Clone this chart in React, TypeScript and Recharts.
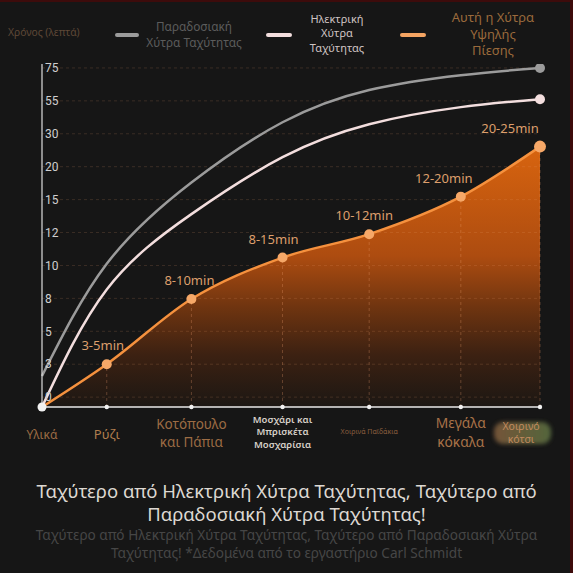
import React from 'react'
import {
  ComposedChart, Area, Line, XAxis, YAxis, ReferenceLine, LabelList,
} from 'recharts'

// categories along the bottom axis (\n = line break in the label)
const categories = [
  'Υλικά',
  'Ρύζι',
  'Κοτόπουλο\nκαι Πάπια',
  'Μοσχάρι και\nΜπρισκέτα\nΜοσχαρίσια',
  'Χοιρινά Παϊδάκια',
  'Μεγάλα\nκόκαλα',
  'Χοιρινό\nκότσι',
]
// position of each category on the (uneven) x scale
const xValues = [0, 1.3, 3.0, 4.83, 6.57, 8.41, 10]

// y values are steps on the uneven minutes scale (0 = "0", 10 = "75")
const yTickLabels = ['0', '3', '5', '8', '10', '12', '15', '20', '30', '55', '75']
const yTicks = [0, 1, 2, 3, 4, 5, 6, 7, 8, 9, 10]
const Y_MIN = -0.3
const Y_MAX = 10.12

const traditional = [0.64, 4.05, 6.52, 8.35, 9.33, 9.78, 10.0]
const electric = [-0.3, 3.27, 5.56, 7.29, 8.29, 8.81, 9.05]
const thisCooker = [-0.3, 1.0, 2.98, 4.24, 4.95, 6.09, 7.61]
const pointLabels = ['', '3-5min', '8-10min', '8-15min', '10-12min', '12-20min', '20-25min']

const rows = categories.map((name, i) => ({
  x: xValues[i],
  name,
  traditional: traditional[i],
  electric: electric[i],
  ours: thisCooker[i],
}))

const GRAY = '#9b9b9b'
const PINK = '#f3dede'
const ORANGE = '#f5913e'

// look of every bottom label, same order as categories
const tickStyles = [
  { size: 12, color: '#9c6c44', top: 27, lh: 17, weight: 400, dx: 0 },
  { size: 13, color: '#b07e4e', top: 27, lh: 17, weight: 400, dx: 0 },
  { size: 13.5, color: '#9c6c44', top: 17, lh: 17.5, weight: 400, dx: 0 },
  { size: 9.5, color: '#d6d0c8', top: 12, lh: 12.5, weight: 600, dx: 0 },
  { size: 7, color: '#8a5e3e', top: 24.5, lh: 10, weight: 400, dx: 0 },
  { size: 13.8, color: '#a87248', top: 15.5, lh: 18.8, weight: 400, dx: 0 },
  { size: 10.5, color: '#c08a5e', top: 18.5, lh: 13, weight: 400, dx: -19 },
]
const labelShift = [0, -4, -2, -9, -5, -17, -30]

function XTick(props: any) {
  const { x, y, index } = props
  const st = tickStyles[index]
  const lines = categories[index].split('\n')
  return (
    <g>
      {index === 6 && (
        <rect x={x - 46} y={y + 15} width={57} height={22} rx={9}
          fill="url(#pillGrad)" filter="url(#pillBlur)" opacity={0.85} />
      )}
      <circle cx={x} cy={y} r={index === 0 ? 4.5 : 2.2} fill="#f2f2f2" />
      {lines.map((t, k) => (
        <text key={k} x={x + st.dx} y={y + st.top + k * st.lh} textAnchor="middle"
          dominantBaseline="central" fontSize={st.size} fontWeight={st.weight} fill={st.color}>
          {t}
        </text>
      ))}
    </g>
  )
}

function endDot(color: string) {
  return (p: any) =>
    p.index === rows.length - 1
      ? <circle key={p.index} cx={p.cx} cy={p.cy} r={5} fill={color} />
      : <g key={p.index} />
}

function oursDot(p: any) {
  if (p.index === 0) return <g key={p.index} />
  return <circle key={p.index} cx={p.cx} cy={p.cy} r={p.index === 6 ? 6 : 5} fill="#f6a868" />
}

function PointLabel(p: any) {
  const text = pointLabels[p.index]
  if (!text) return null
  return (
    <text x={p.x + labelShift[p.index]} y={p.y - 19} textAnchor="middle" dominantBaseline="central"
      fontSize={13} fill="#dd9f6c">
      {text}
    </text>
  )
}

const legendText: React.CSSProperties = { position: 'absolute', textAlign: 'center', whiteSpace: 'nowrap' }

export default function App() {
  return (
    <div style={{
      position: 'fixed', top: 0, left: 0, width: 573, height: 573, background: '#161616',
      fontFamily: '"Noto Sans", sans-serif', overflow: 'hidden',
      borderTop: '2px solid #3d0b0b', borderRight: '3px solid #3d0b0b', boxSizing: 'border-box',
    }}>
      {/* legend */}
      <div style={{ ...legendText, left: 8, top: 23, fontSize: 10.3, color: '#5e4836' }}>Χρόνος (λεπτά)</div>
      <div style={{ position: 'absolute', left: 115, top: 31, width: 24, height: 4, borderRadius: 2, background: GRAY }} />
      <div style={{ ...legendText, left: 144, width: 100, top: 17, fontSize: 11.8, lineHeight: '15.5px', color: '#5c5c5c' }}>
        Παραδοσιακή<br />Χύτρα Ταχύτητας
      </div>
      <div style={{ position: 'absolute', left: 266, top: 31, width: 26, height: 4, borderRadius: 2, background: PINK }} />
      <div style={{ ...legendText, left: 297, width: 80, top: 10, fontSize: 11, lineHeight: '14.3px', color: '#d0c4c4' }}>
        Ηλεκτρική<br />Χύτρα<br />Ταχύτητας
      </div>
      <div style={{ position: 'absolute', left: 400, top: 31, width: 26, height: 4, borderRadius: 2, background: '#f4a462' }} />
      <div style={{ ...legendText, left: 443, width: 100, top: 7, fontSize: 13, lineHeight: '16.5px', color: '#9a6a3c' }}>
        Αυτή η Χύτρα<br />Υψηλής<br />Πίεσης
      </div>

      <div style={{ position: 'absolute', top: 0, left: 0 }}>
        <ComposedChart width={573} height={470} data={rows} margin={{ top: 62, right: 33, bottom: 5, left: 42 }}>
          <defs>
            <linearGradient id="oursGrad" x1="0" y1="0" x2="0" y2="1">
              <stop offset="0%" stopColor="#d8640f" />
              <stop offset="42%" stopColor="#ad4c10" />
              <stop offset="62%" stopColor="#6e3410" />
              <stop offset="80%" stopColor="#3c2112" />
              <stop offset="100%" stopColor="#1c1713" />
            </linearGradient>
            <linearGradient id="pillGrad" x1="0" y1="0" x2="1" y2="0">
              <stop offset="0%" stopColor="#85603e" />
              <stop offset="100%" stopColor="#5f7444" />
            </linearGradient>
            <filter id="pillBlur" x="-20%" y="-40%" width="140%" height="180%">
              <feGaussianBlur stdDeviation="2" />
            </filter>
          </defs>
          <XAxis
            dataKey="x" type="number" domain={[0, 10]} ticks={xValues} interval={0}
            axisLine={{ stroke: '#e8e8e8', strokeWidth: 1.5 }} tickLine={false}
            tickSize={0} tickMargin={0} height={60} tick={(p: any) => <XTick {...p} />}
          />
          <YAxis
            type="number" domain={[Y_MIN, Y_MAX]} ticks={yTicks} allowDataOverflow mirror
            tickFormatter={(v: number) => yTickLabels[v]} axisLine={{ stroke: '#e0e0e0', strokeWidth: 1.2 }}
            tickLine={false} tickSize={0} tickMargin={3}
            tick={{ fill: '#cfcfcf', fontSize: 12, fontFamily: 'Roboto, sans-serif' }}
          />
          <Area
            type="monotone" dataKey="ours" baseValue={Y_MIN} stroke="none"
            fill="url(#oursGrad)" fillOpacity={1} dot={false} activeDot={false} isAnimationActive={false}
          />
          {/* dashed grid, drawn over the filled area */}
          {yTicks.map((t) => (
            <ReferenceLine key={`h${t}`} y={t} stroke="#f0a070" strokeOpacity={0.17} strokeDasharray="3 3" />
          ))}
          {rows.slice(1).map((r) => (
            <ReferenceLine key={`v${r.x}`} segment={[{ x: r.x, y: Y_MIN }, { x: r.x, y: r.ours }]}
              stroke="#f0a070" strokeOpacity={0.3} strokeDasharray="3 3" />
          ))}
          <Line type="natural" dataKey="traditional" stroke={GRAY} strokeWidth={2.5}
            dot={endDot(GRAY)} activeDot={false} isAnimationActive={false} />
          <Line type="natural" dataKey="electric" stroke={PINK} strokeWidth={2.5}
            dot={endDot(PINK)} activeDot={false} isAnimationActive={false} />
          <Line type="monotone" dataKey="ours" stroke={ORANGE} strokeWidth={2.5}
            dot={oursDot} activeDot={false} isAnimationActive={false}>
            <LabelList dataKey="ours" content={PointLabel} />
          </Line>
        </ComposedChart>
      </div>

      <div style={{
        position: 'absolute', top: 477, left: 0, width: 573, textAlign: 'center',
        fontSize: 18.5, lineHeight: '23px', color: '#ddd8d2',
      }}>
        Ταχύτερο από Ηλεκτρική Χύτρα Ταχύτητας, Ταχύτερο από<br />Παραδοσιακή Χύτρα Ταχύτητας!
      </div>
      <div style={{
        position: 'absolute', top: 524, left: 0, width: 573, textAlign: 'center',
        fontSize: 13.6, lineHeight: '17.5px', color: '#464646',
      }}>
        Ταχύτερο από Ηλεκτρική Χύτρα Ταχύτητας, Ταχύτερο από Παραδοσιακή Χύτρα<br />Ταχύτητας! *Δεδομένα από το εργαστήριο Carl Schmidt
      </div>
    </div>
  )
}
